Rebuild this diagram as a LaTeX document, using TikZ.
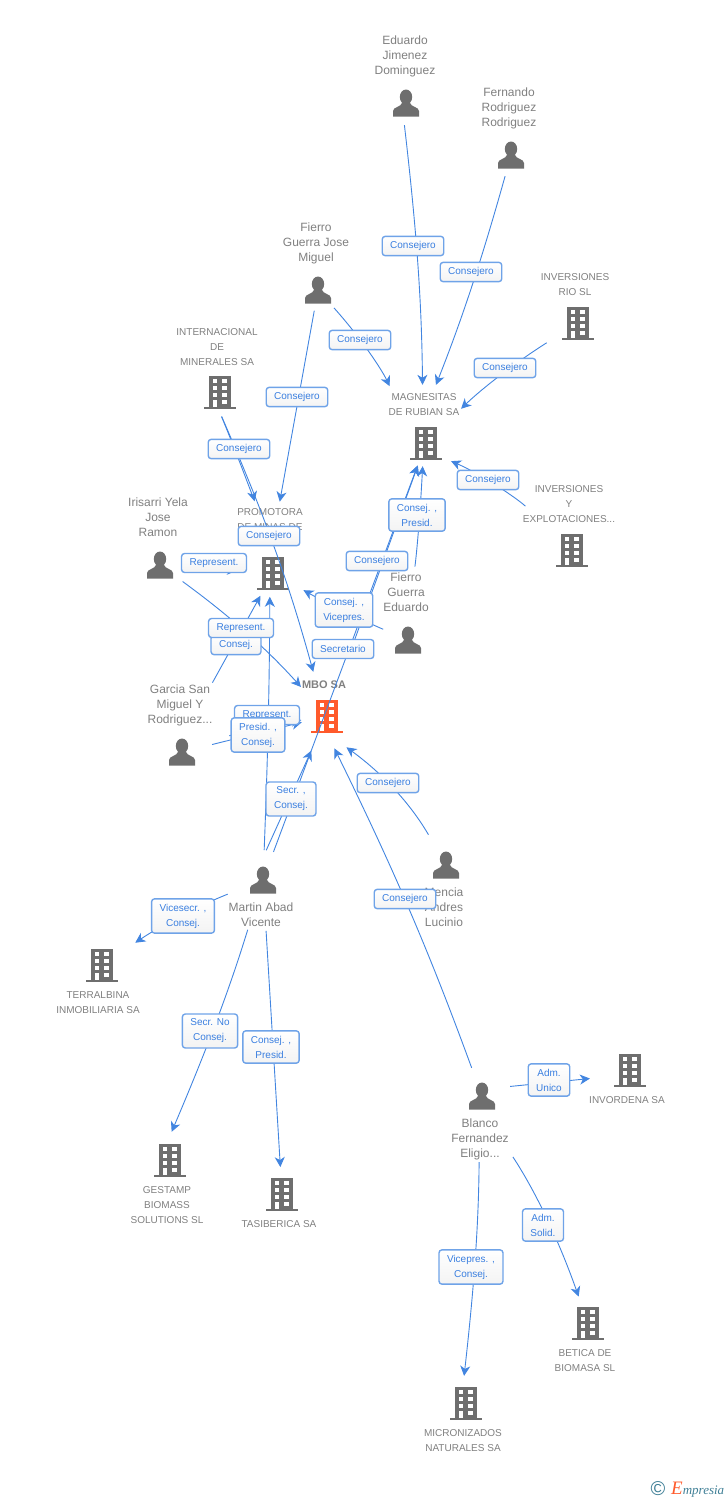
\documentclass[tikz,border=0pt]{standalone}
\usepackage{fontspec}
\setmainfont{Liberation Sans}
\newfontfamily\logofont{Liberation Serif}
\usetikzlibrary{arrows.meta,positioning}
\definecolor{iconGray}{HTML}{6E6E6E}
\definecolor{iconOrange}{HTML}{FF5A2B}
\definecolor{nameGray}{HTML}{808080}
\definecolor{linkBlue}{HTML}{4285E0}
\definecolor{roleBlue}{HTML}{3A7FE0}
\definecolor{roleBorder}{HTML}{6FA3E8}
\definecolor{roleFill}{HTML}{F3F3F3}
\definecolor{logoTeal}{HTML}{3F7F96}
\newcommand{\buildingShape}[1]{
    \fill[#1] (-11,-16.5) rectangle (11,14.5);
    \fill[#1] (-16,14.5) rectangle (16,16.5);
    \foreach \rowY in {-13.5,-6.5,0.5,7.5} {\fill[white] (2,\rowY) rectangle (6.5,\rowY+4);}
    \foreach \rowY in {-13.5,-6.5,0.5} {\fill[white] (-7.5,\rowY) rectangle (-3,\rowY+4);}
    \fill[white] (-7.5,7.5) rectangle (-3,14.5);
}
\newcommand{\personShape}{
    \fill[iconGray] (0,-6) ellipse (6.2 and 7.5);
    \fill[iconGray] (-13,13.5) -- (-13,8) .. controls (-13,4) and (-5,4) .. (-4,0) -- (4,0) .. controls (5,4) and (13,4) .. (13,8) -- (13,13.5) -- cycle;
}
\tikzset{
    buildingNode/.style={minimum size=34pt,inner sep=0pt,path picture={\buildingShape{#1}}},
    buildingNode/.default=iconGray,
    personNode/.style={minimum size=28pt,inner sep=0pt,path picture={\personShape}},
    personText/.style={text=nameGray,align=center,inner sep=0pt,text depth=3pt,font=\fontsize{12}{15}\selectfont},
    companyText/.style={text=nameGray,align=center,inner sep=0pt,text depth=3pt,font=\fontsize{10}{15}\selectfont},
    link/.style={->,draw=linkBlue,line width=0.9pt},
    roleBox/.style={draw=roleBorder,line width=1.4pt,rounded corners=3pt,top color=white,bottom color=roleFill,text=roleBlue,align=center,inner xsep=8pt,inner ysep=5pt,minimum height=19pt,font=\fontsize{10}{15}\selectfont}
}
\begin{document}
\begin{tikzpicture}[x=1pt,y=-1pt,>={Stealth[length=10pt,width=10pt,inset=3pt]}]
    \useasboundingbox (0,0) rectangle (728,1500);

    \node[personNode] (eduardoNode) at (406,103) {};
    \node[personNode] (fernandoNode) at (511,155) {};
    \node[personNode] (fierroJoseNode) at (318,290) {};
    \node[personNode] (irisarriNode) at (160,565) {};
    \node[personNode] (fierroEduardoNode) at (408,640) {};
    \node[personNode] (garciaNode) at (182,752) {};
    \node[personNode] (menciaNode) at (446,865) {};
    \node[personNode] (martinNode) at (263,880) {};
    \node[personNode] (blancoNode) at (482,1096) {};

    \node[buildingNode] (inversionesRioNode) at (578,323) {};
    \node[buildingNode] (internacionalNode) at (220,392) {};
    \node[buildingNode] (magnesitasNode) at (426,443) {};
    \node[buildingNode] (explotacionesNode) at (572,550) {};
    \node[buildingNode] (promotoraNode) at (273,573) {};
    \node[buildingNode=iconOrange] (mboNode) at (327,716) {};
    \node[buildingNode] (terralbinaNode) at (102,965) {};
    \node[buildingNode] (invordenaNode) at (630,1070) {};
    \node[buildingNode] (gestampNode) at (170,1160) {};
    \node[buildingNode] (tasibericaNode) at (282,1194) {};
    \node[buildingNode] (beticaNode) at (588,1323) {};
    \node[buildingNode] (micronizadosNode) at (466,1403) {};

    \node[personText,above=25pt,xshift=-1pt] (eduardoText) at (eduardoNode) {Eduardo\\Jimenez\\Dominguez};
    \node[personText,above=25pt,xshift=-2pt] (fernandoText) at (fernandoNode) {Fernando\\Rodriguez\\Rodriguez};
    \node[personText,above=25pt,xshift=-2pt] (fierroJoseText) at (fierroJoseNode) {Fierro\\Guerra Jose\\Miguel};
    \node[personText,above=25pt,xshift=-2pt] (irisarriText) at (irisarriNode) {Irisarri Yela\\Jose\\Ramon};
    \node[personText,above=25pt,xshift=-2pt] (fierroEduardoText) at (fierroEduardoNode) {Fierro\\Guerra\\Eduardo};
    \node[personText,above=25pt,xshift=-2pt] (garciaText) at (garciaNode) {Garcia San\\Miguel Y\\Rodriguez...};
    \node[personText,below=23pt,xshift=-2pt] (menciaText) at (menciaNode) {Mencia\\Andres\\Lucinio};
    \node[personText,below=23pt,xshift=-2pt] (martinText) at (martinNode) {Martin Abad\\Vicente};
    \node[personText,below=23pt,xshift=-2pt] (blancoText) at (blancoNode) {Blanco\\Fernandez\\Eligio...};

    \node[companyText,above=24pt,xshift=-3pt] (inversionesRioText) at (inversionesRioNode) {INVERSIONES\\RIO SL};
    \node[companyText,above=23pt,xshift=-3pt] (internacionalText) at (internacionalNode) {INTERNACIONAL\\DE\\MINERALES SA};
    \node[companyText,above=24pt,xshift=-2pt] (magnesitasText) at (magnesitasNode) {MAGNESITAS\\DE RUBIAN SA};
    \node[companyText,above=24pt,xshift=-3pt] (explotacionesText) at (explotacionesNode) {INVERSIONES\\Y\\EXPLOTACIONES...};
    \node[companyText,above=39pt,xshift=-3pt] (promotoraText) at (promotoraNode) {PROMOTORA\\DE MINAS DE};
    \node[companyText,above=24pt,xshift=-3pt,font=\fontsize{11}{15}\selectfont\bfseries] (mboText) at (mboNode) {MBO SA};
    \node[companyText,below=26pt,xshift=-4pt] (terralbinaText) at (terralbinaNode) {TERRALBINA\\INMOBILIARIA SA};
    \node[companyText,below=26pt,xshift=-3pt] (invordenaText) at (invordenaNode) {INVORDENA SA};
    \node[companyText,below=26pt,xshift=-3pt] (gestampText) at (gestampNode) {GESTAMP\\BIOMASS\\SOLUTIONS  SL};
    \node[companyText,below=26pt,xshift=-3pt] (tasibericaText) at (tasibericaNode) {TASIBERICA SA};
    \node[companyText,below=26pt,xshift=-3pt] (beticaText) at (beticaNode) {BETICA DE\\BIOMASA SL};
    \node[companyText,below=26pt,xshift=-3pt] (micronizadosText) at (micronizadosNode) {MICRONIZADOS\\NATURALES SA};

    \draw[link,shorten <=8pt,shorten >=41pt] (eduardoNode.-100) to[bend left=3] (magnesitasNode.100);
    \draw[link,shorten <=22pt,shorten >=44pt] (fernandoNode.center) to[bend left=3] (magnesitasNode.110);
    \draw[link,shorten <=37pt,shorten >=49pt] (inversionesRioNode.center) to[bend right=6] (magnesitasNode.center);
    \draw[link,shorten <=64pt,shorten >=46pt] (explotacionesNode.center) to[bend right=10] (magnesitasNode.west);
    \draw[link,shorten <=24pt,shorten >=44pt] (fierroJoseNode.center) to[bend left=8] (magnesitasNode.north west);
    \draw[link,shorten <=21pt,shorten >=55pt] (fierroJoseNode.center) -- (promotoraNode.100);
    \draw[link,shorten <=8pt,shorten >=74pt] (internacionalNode.-95) to[bend left=4] (promotoraNode.center);
    \draw[link,shorten <=8pt,shorten >=28pt] (internacionalNode.-95) to[bend left=4] (mboNode.110);
    \draw[link,shorten <=23pt,shorten >=36pt] (irisarriNode.center) -- (promotoraNode.center);
    \draw[link,shorten <=28pt,shorten >=39pt] (irisarriNode.center) to[bend left=6] (mboNode.center);
    \draw[link,shorten <=63pt,shorten >=26pt] (garciaNode.north) -- (promotoraNode.center);
    \draw[link,shorten <=31pt,shorten >=26pt] (garciaNode.center) -- (mboNode.center);
    \draw[link,shorten <=50pt,shorten >=26pt] (garciaNode.center) to[bend left=5] (mboNode.center);
    \draw[link,shorten <=30pt,shorten >=41pt] (martinNode.center) to[bend right=1] (promotoraNode.100);
    \draw[link,shorten <=17pt,shorten >=38pt] (martinNode.105) -- (mboNode.center);
    \draw[link,shorten <=30pt,shorten >=24pt] (martinNode.center) -- (magnesitasNode.center);
    \draw[link,shorten <=70pt,shorten >=24pt] (mboNode.center) -- (magnesitasNode.center);
    \draw[link,shorten <=60pt,shorten >=6pt] (fierroEduardoNode.100) to[bend right=3] (magnesitasNode.-100);
    \draw[link,shorten <=27pt,shorten >=35pt] (fierroEduardoNode.center) to[bend left=3] (promotoraNode.center);
    \draw[link,shorten <=35pt,shorten >=24pt] (menciaNode.center) to[bend right=12] (mboNode.south);
    \draw[link,shorten <=30pt,shorten >=17pt] (blancoNode.center) to[bend right=3] (mboNode.south);
    \draw[link,shorten <=38pt,shorten >=40pt] (martinNode.center) to[bend right=6] (terralbinaNode.center);
    \draw[link,shorten <=52pt,shorten >=12pt] (martinNode.center) to[bend left=3] (gestampNode.100);
    \draw[link,shorten <=51pt,shorten >=27pt] (martinNode.center) -- (tasibericaNode.center);
    \draw[link,shorten <=14pt,shorten >=23pt] (blancoNode.30) -- (invordenaNode.-160);
    \draw[link,shorten <=56pt,shorten >=28pt] (blancoNode.south) to[bend left=7] (beticaNode.center);
    \draw[link,shorten <=52pt,shorten >=10pt] (blancoNode.-100) to[bend left=3] (micronizadosNode.100);

    \node[roleBox] (eduardoRole) at (413,246) {Consejero};
    \node[roleBox] (fernandoRole) at (471,272) {Consejero};
    \node[roleBox] (inversionesRioRole) at (505,368) {Consejero};
    \node[roleBox] (explotacionesRole) at (488,480) {Consejero};
    \node[roleBox] (fierroJoseMagnesitasRole) at (360,340) {Consejero};
    \node[roleBox] (fierroJosePromotoraRole) at (297,397) {Consejero};
    \node[roleBox] (internacionalPromotoraRole) at (239,449) {Consejero};
    \node[roleBox] (internacionalMboRole) at (269,536) {Consejero};
    \node[roleBox] (irisarriPromotoraRole) at (214,563) {Represent.};
    \node[roleBox] (garciaPromotoraRole) at (236,645) {Consej.};
    \node[roleBox] (irisarriMboRole) at (241,628) {Represent.};
    \node[roleBox] (martinPromotoraRole) at (267,715) {Represent.};
    \node[roleBox] (garciaMboRole) at (258,735) {Presid. ,\\Consej.};
    \node[roleBox] (martinMboRole) at (291,799) {Secr. ,\\Consej.};
    \node[roleBox] (martinMagnesitasRole) at (343,649) {Secretario};
    \node[roleBox] (mboMagnesitasRole) at (377,561) {Consejero};
    \node[roleBox] (fierroEduardoMagnesitasRole) at (417,515) {Consej. ,\\Presid.};
    \node[roleBox] (fierroEduardoPromotoraRole) at (344,610) {Consej. ,\\Vicepres.};
    \node[roleBox] (menciaRole) at (388,783) {Consejero};
    \node[roleBox] (blancoMboRole) at (405,899) {Consejero};
    \node[roleBox] (terralbinaRole) at (183,916) {Vicesecr. ,\\Consej.};
    \node[roleBox] (gestampRole) at (210,1031) {Secr.  No\\Consej.};
    \node[roleBox] (tasibericaRole) at (271,1047) {Consej. ,\\Presid.};
    \node[roleBox] (invordenaRole) at (549,1080) {Adm.\\Unico};
    \node[roleBox] (beticaRole) at (543,1225) {Adm.\\Solid.};
    \node[roleBox] (micronizadosRole) at (471,1267) {Vicepres. ,\\Consej.};

    \node[text=logoTeal,font=\fontsize{20}{20}\selectfont] (copyrightMark) at (658,1489) {©};
    \node[text=logoTeal,anchor=base west,inner sep=0pt,font=\logofont\itshape\fontsize{13}{13}\selectfont] (logoText) at (671,1494) {\textcolor{iconOrange}{\fontsize{19}{19}\selectfont E}mpresia};
\end{tikzpicture}
\end{document}
